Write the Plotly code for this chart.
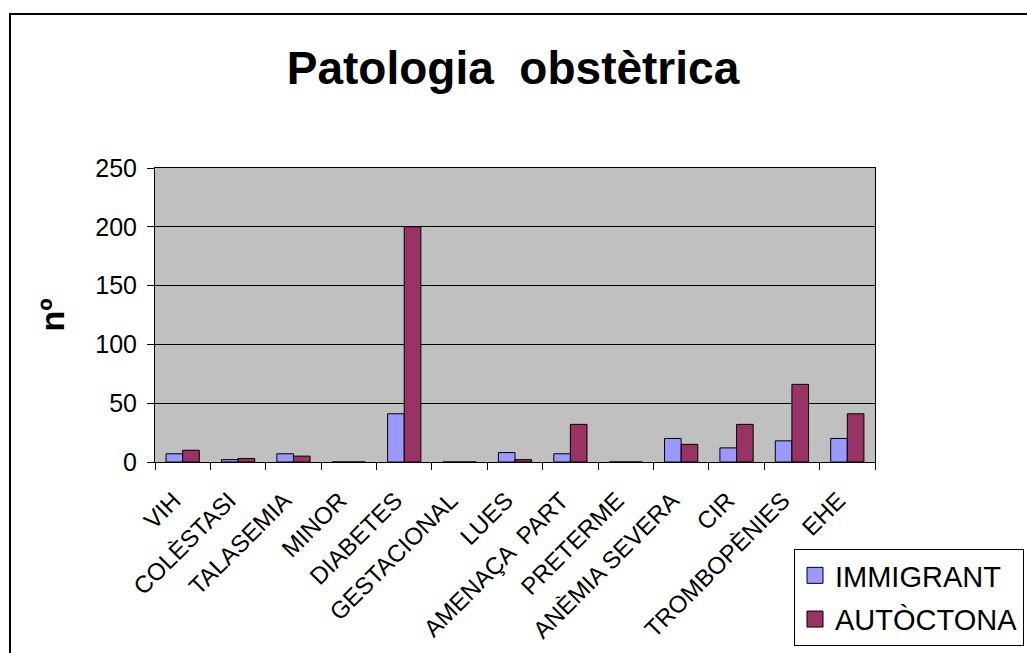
import plotly.graph_objects as go

categories = ["VIH", "COLÈSTASI", "TALASEMIA", "MINOR", "DIABETES", "GESTACIONAL",
              "LUES", "AMENAÇA  PART", "PRETERME", "ANÈMIA SEVERA", "CIR",
              "TROMBOPÈNIES", "EHE"]
immigrant = [7, 2, 7, 0, 41, 0, 8, 7, 0, 20, 12, 18, 20]
autoctona = [10, 3, 5, 0, 200, 0, 2, 32, 0, 15, 32, 66, 41]
y_ticks = [0, 50, 100, 150, 200, 250]
series_names = ["IMMIGRANT", "AUTÒCTONA"]
series_colors = ["#9999FF", "#993366"]

W, H = 1027, 653
L, R, T, B = 155, 875, 168, 462

def px(x):
    return (x - L) / (R - L)

def py(y):
    return (B - y) / (B - T)

FONT = "Liberation Sans, Arial, sans-serif"

fig = go.Figure()
for vals, name, col in zip([immigrant, autoctona], series_names, series_colors):
    fig.add_trace(go.Bar(x=categories, y=vals, name=name, showlegend=False,
                         marker=dict(color=col, line=dict(color="black", width=1))))
for i, (name, col) in enumerate(zip(series_names, series_colors)):
    fig.add_trace(go.Scatter(x=[None], y=[None], mode="markers", name=name,
                             legendgroup=f"g{i}",
                             marker=dict(symbol="square", size=17, color=col,
                                         line=dict(color="black", width=1))))

fig.update_layout(
    width=W, height=H,
    margin=dict(l=L, r=W - R, t=T, b=H - B, autoexpand=False),
    paper_bgcolor="white",
    plot_bgcolor="#C0C0C0",
    barmode="group",
    bargap=0.4,
    bargroupgap=0,
    font=dict(family=FONT, color="black", size=24),
    title=dict(text="<b>Patologia  obstètrica</b>", x=513 / W, xanchor="center",
               y=1 - 68 / H, yanchor="middle",
               font=dict(family=FONT, size=46, color="black")),
    showlegend=True,
    legend=dict(x=px(794), y=py(549), xanchor="left", yanchor="top",
                bgcolor="white", bordercolor="black", borderwidth=1,
                font=dict(family=FONT, size=29, color="black"),
                traceorder="grouped", tracegroupgap=3),
    xaxis=dict(type="category", tickangle=-45, ticks="outside", ticklen=7,
               tickcolor="black", tickson="boundaries", showline=True,
               linecolor="black", linewidth=1, mirror=True, showgrid=False,
               ticklabelstandoff=14, ticklabelshift=-9,
               tickfont=dict(family=FONT, size=24, color="black")),
    yaxis=dict(range=[0, 250], tickvals=y_ticks, ticks="outside", ticklen=7,
               tickcolor="black", showline=True, linecolor="black", linewidth=1,
               mirror=True, showgrid=True, gridcolor="black", gridwidth=1,
               zeroline=False, ticklabelstandoff=5,
               tickfont=dict(family=FONT, size=25, color="black"),
               title=dict(text="<b>nº</b>", standoff=20,
                          font=dict(family=FONT, size=34, color="black"))),
)

fig.add_shape(type="rect", xref="paper", yref="paper",
              x0=px(10), x1=px(1100), y0=py(14), y1=py(720),
              line=dict(color="black", width=2), fillcolor="rgba(0,0,0,0)",
              layer="below")

fig.write_html("out.html", config={"displayModeBar": False},
               post_script="document.body.style.margin='0px';")
